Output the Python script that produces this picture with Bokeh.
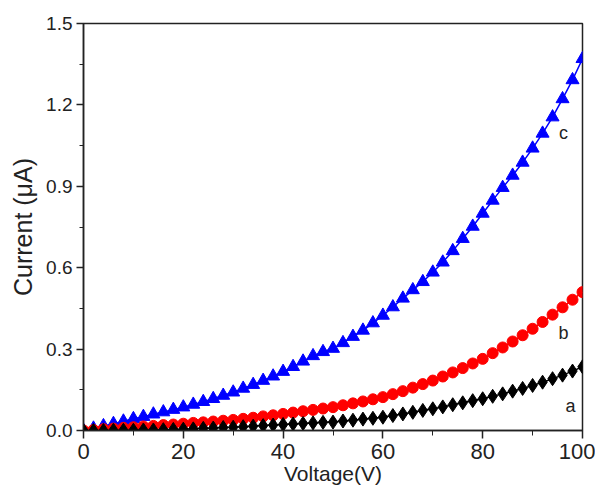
from bokeh.plotting import figure
from bokeh.models import ColumnDataSource, Range1d, FixedTicker, Label
from bokeh.embed import file_html
from bokeh.resources import INLINE

voltage = [0, 2, 4, 6, 8, 10, 12, 14, 16, 18, 20, 22, 24, 26, 28, 30, 32, 34, 36, 38,
           40, 42, 44, 46, 48, 50, 52, 54, 56, 58, 60, 62, 64, 66, 68, 70, 72, 74, 76, 78,
           80, 82, 84, 86, 88, 90, 92, 94, 96, 98, 100]

current_a = [0.000, 0.000, 0.000, 0.001, 0.001, 0.001, 0.002, 0.002, 0.003, 0.004,
             0.005, 0.006, 0.008, 0.009, 0.011, 0.012, 0.014, 0.016, 0.018, 0.020,
             0.022, 0.024, 0.026, 0.028, 0.030, 0.031, 0.035, 0.038, 0.042, 0.045,
             0.049, 0.055, 0.061, 0.067, 0.074, 0.080, 0.087, 0.095, 0.102, 0.110,
             0.117, 0.126, 0.135, 0.145, 0.155, 0.166, 0.178, 0.191, 0.204, 0.219, 0.235]

current_b = [0.000, 0.002, 0.005, 0.007, 0.010, 0.012, 0.015, 0.017, 0.020, 0.022,
             0.025, 0.028, 0.030, 0.033, 0.036, 0.039, 0.043, 0.047, 0.052, 0.056,
             0.061, 0.066, 0.071, 0.076, 0.081, 0.086, 0.093, 0.100, 0.107, 0.115,
             0.123, 0.134, 0.145, 0.158, 0.171, 0.184, 0.199, 0.214, 0.230, 0.247,
             0.264, 0.285, 0.306, 0.328, 0.351, 0.375, 0.400, 0.427, 0.454, 0.482, 0.510]

current_c = [0.000, 0.008, 0.017, 0.025, 0.034, 0.043, 0.051, 0.060, 0.068, 0.077,
             0.086, 0.096, 0.106, 0.117, 0.129, 0.141, 0.155, 0.169, 0.184, 0.200,
             0.217, 0.235, 0.255, 0.275, 0.290, 0.302, 0.323, 0.346, 0.369, 0.396,
             0.424, 0.455, 0.487, 0.518, 0.548, 0.583, 0.620, 0.662, 0.707, 0.752,
             0.800, 0.848, 0.895, 0.940, 0.988, 1.040, 1.095, 1.155, 1.222, 1.292, 1.370]

x_ticks = [0, 20, 40, 60, 80, 100]
y_ticks = [0.0, 0.3, 0.6, 0.9, 1.2, 1.5]
y_tick_labels = ["0.0", "0.3", "0.6", "0.9", "1.2", "1.5"]

x_title = "Voltage(V)"
y_title = "Current (\u03bcA)"

curve_labels = ["a", "b", "c"]
label_pos = [(97.6, 0.092), (96.2, 0.361), (96.2, 1.098)]

FONT = "Liberation Sans"

p = figure(width=595, height=488, output_backend="svg", toolbar_location=None,
           x_range=Range1d(0, 100), y_range=Range1d(0, 1.5),
           min_border_left=83, min_border_right=13, min_border_top=23, min_border_bottom=58)
p.grid.visible = False
p.outline_line_color = "#222222"
p.outline_line_width = 1.5
p.background_fill_color = "white"
p.border_fill_color = "white"

src = ColumnDataSource(dict(v=voltage, a=current_a, b=current_b, c=current_c))

p.line("v", "c", source=src, line_color="#0000FF", line_width=1.5)
p.scatter("v", "c", source=src, marker="triangle", size=13, fill_color="#0000FF", line_color="#0000FF")
p.line("v", "b", source=src, line_color="#FF0000", line_width=1.5)
p.scatter("v", "b", source=src, marker="circle", size=11, fill_color="#FF0000", line_color="#FF0000")
p.line("v", "a", source=src, line_color="black", line_width=1.5)
p.scatter("v", "a", source=src, marker="diamond", size=14, fill_color="black", line_color="black")

for txt, (lx, ly) in zip(curve_labels, label_pos):
    p.add_layout(Label(x=lx, y=ly, text=txt, text_align="center", text_baseline="middle",
                       text_font=FONT, text_font_size="18px", text_color="#222222"))

xa = p.xaxis[0]
xa.ticker = FixedTicker(ticks=x_ticks, minor_ticks=[10, 30, 50, 70, 90])
xa.axis_label = x_title
xa.axis_label_text_font = FONT
xa.axis_label_text_font_size = "21px"
xa.axis_label_text_font_style = "normal"
xa.axis_label_text_color = "#222222"
xa.axis_label_standoff = 0
xa.major_label_text_font = FONT
xa.major_label_text_font_size = "22px"
xa.major_label_text_color = "#222222"
xa.major_label_standoff = 5
xa.major_tick_out = 8
xa.major_tick_in = 0
xa.minor_tick_out = 5
xa.minor_tick_in = 0
xa.axis_line_width = 1.5
xa.axis_line_color = "#222222"
xa.major_tick_line_width = 1.5
xa.major_tick_line_color = "#222222"
xa.minor_tick_line_color = "#222222"

ya = p.yaxis[0]
ya.ticker = FixedTicker(ticks=y_ticks, minor_ticks=[0.15, 0.45, 0.75, 1.05, 1.35])
ya.major_label_overrides = {t: l for t, l in zip(y_ticks, y_tick_labels)}
ya.axis_label = y_title
ya.axis_label_text_font = FONT
ya.axis_label_text_font_size = "25px"
ya.axis_label_text_font_style = "normal"
ya.axis_label_text_color = "#222222"
ya.axis_label_standoff = 6
ya.major_label_text_font = FONT
ya.major_label_text_font_size = "19px"
ya.major_label_text_color = "#222222"
ya.major_label_standoff = 4
ya.major_tick_out = 7
ya.major_tick_in = 0
ya.minor_tick_out = 4
ya.minor_tick_in = 0
ya.axis_line_width = 1.5
ya.axis_line_color = "#222222"
ya.major_tick_line_width = 1.5
ya.major_tick_line_color = "#222222"
ya.minor_tick_line_color = "#222222"

open("out.html", "w").write(file_html(p, INLINE))
